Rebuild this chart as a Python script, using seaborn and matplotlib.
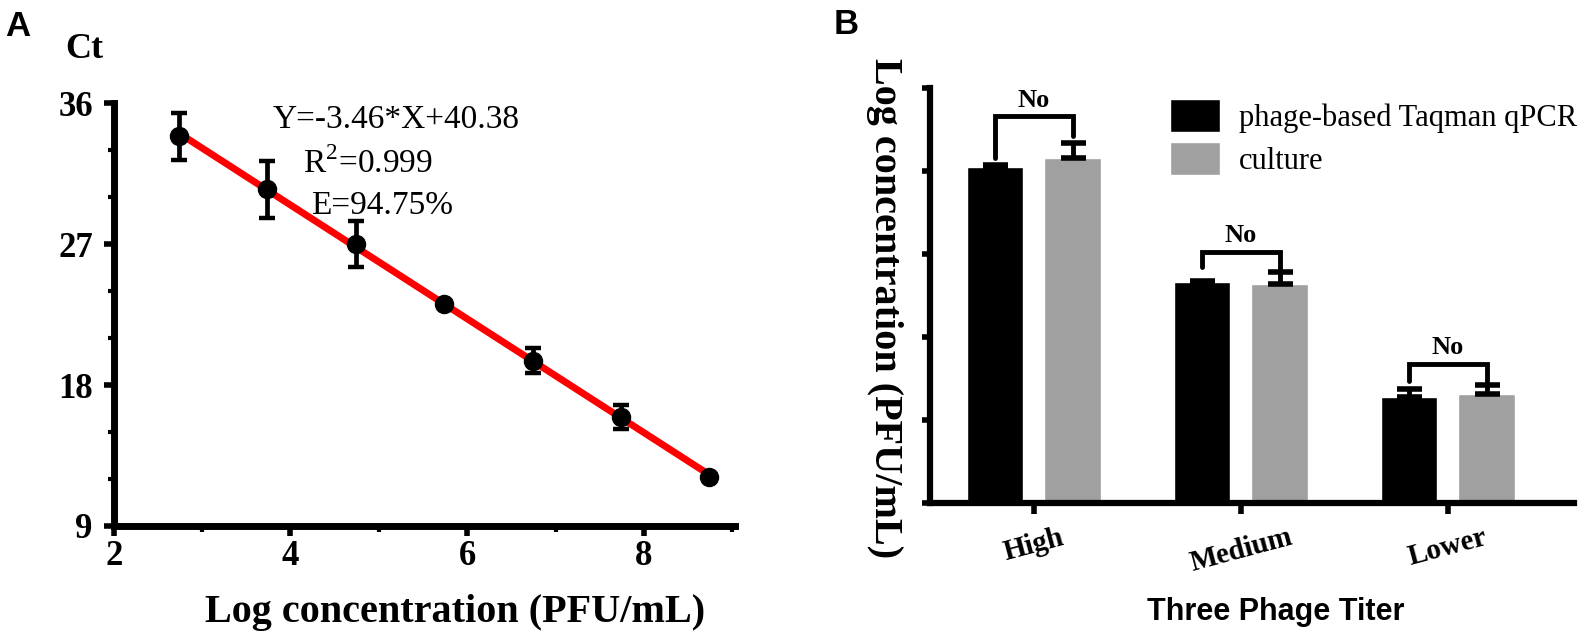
import numpy as np
import pandas as pd
import seaborn as sns
import matplotlib.pyplot as plt
from matplotlib.ticker import MultipleLocator

# Panel A: standard curve
log_conc = [2.74, 3.74, 4.74, 5.74, 6.74, 7.74, 8.74]
ct_mean = [33.9, 30.5, 27.0, 23.2, 19.55, 15.95, 12.15]
ct_sd = [1.5, 1.8, 1.45, 0.0, 0.8, 0.75, 0.0]

# Panel B: titer comparison
titers = ['High', 'Medium', 'Lower']
methods = ['phage-based Taqman qPCR', 'culture']
qpcr_mean = [8.11, 5.32, 2.55]
qpcr_sd = [0.04, 0.04, 0.19]
culture_mean = [8.31, 5.29, 2.63]
culture_sd = [0.36, 0.27, 0.22]
bracket_top = [9.32, 6.05, 3.35]
bracket_left = [8.31, 5.69, 2.93]
bracket_right = [8.84, 5.65, 2.95]

sns.set_style('ticks')
plt.rcParams['font.family'] = ['Liberation Serif', 'DejaVu Serif']
plt.rcParams['mathtext.fontset'] = 'custom'
plt.rcParams['mathtext.rm'] = 'Liberation Serif'
for k in ['text.color', 'axes.labelcolor', 'xtick.color', 'ytick.color', 'axes.edgecolor']:
    plt.rcParams[k] = 'black'

W, H = 1594, 638
fig = plt.figure(figsize=(W / 100, H / 100), dpi=100)

# ---------------- Panel A ----------------
axa = fig.add_axes([113.7 / W, (H - 526) / H, (735 - 113.7) / W, (526 - 103.3) / H])
sns.regplot(x=log_conc, y=ct_mean, scatter=False, ci=None, truncate=True,
            color='#ff0000', line_kws=dict(lw=5, solid_capstyle='butt'), ax=axa)
axa.errorbar(log_conc, ct_mean, yerr=ct_sd, fmt='o', color='black', ms=13,
             elinewidth=3.4, capsize=5.5, capthick=3.2, zorder=5)
axa.set_xlim(2, 9.03)
axa.set_ylim(9, 36)
axa.xaxis.set_major_locator(MultipleLocator(2))
axa.xaxis.set_minor_locator(MultipleLocator(1))
axa.yaxis.set_major_locator(MultipleLocator(9))
axa.yaxis.set_minor_locator(MultipleLocator(3))
sns.despine(ax=axa)
for s in ['left', 'bottom']:
    axa.spines[s].set_linewidth(5)
    axa.spines[s].set_capstyle('projecting')
axa.tick_params(which='major', length=7, width=4, labelsize=25)
axa.tick_params(which='minor', length=4, width=3)
axa.tick_params(axis='y', which='major', pad=8)
axa.tick_params(axis='x', which='major', pad=3)
for lab in axa.get_xticklabels() + axa.get_yticklabels():
    lab.set_fontweight('bold')
axa.set_xlabel('Log concentration (PFU/mL)', fontsize=29, fontweight='bold')
axa.xaxis.set_label_coords(0.55, -0.205)
axa.xaxis.label.set_va('center')
axa.set_ylabel('')

axa.text(0.256, 0.962, 'Y=-3.46*X+40.38', transform=axa.transAxes, fontsize=24,
         ha='left', va='center')
axa.text(0.304, 0.857, 'R$^{2}$=0.999', transform=axa.transAxes, fontsize=24,
         ha='left', va='center')
axa.text(0.317, 0.757, 'E=94.75%', transform=axa.transAxes, fontsize=24,
         ha='left', va='center')

fig.text(84 / W, 1 - 49 / H, 'Ct', fontsize=26, fontweight='bold', ha='center', va='center')
fig.text(18 / W, 1 - 27 / H, 'A', fontsize=25, fontweight='bold', ha='center', va='center',
         family='Liberation Sans')

# ---------------- Panel B ----------------
axb = fig.add_axes([930 / W, (H - 503) / H, (1574 - 930) / W, (503 - 88.3) / H])
df = pd.DataFrame({
    'titer': titers * 2,
    'method': [methods[0]] * 3 + [methods[1]] * 3,
    'value': qpcr_mean + culture_mean,
})
sns.barplot(data=df, x='titer', y='value', hue='method', order=titers, hue_order=methods,
            palette=['#000000', '#a0a0a0'], saturation=1, width=0.75, gap=0.27,
            errorbar=None, ax=axb)

centers = []
for cont, means, sds in zip(axb.containers, [qpcr_mean, culture_mean], [qpcr_sd, culture_sd]):
    xs = [p.get_x() + p.get_width() / 2 for p in cont]
    centers.append(xs)
    axb.errorbar(xs, means, yerr=[np.zeros(len(sds)), sds], fmt='none', ecolor='black',
                 elinewidth=3.5, capsize=9, capthick=4, zorder=4)

for i in range(len(titers)):
    xl, xr = centers[0][i], centers[1][i]
    axb.plot([xl, xl, xr, xr], [bracket_left[i], bracket_top[i], bracket_top[i], bracket_right[i]],
             color='black', lw=3.5, solid_joinstyle='miter')
    axb.text((xl + xr) / 2, bracket_top[i] + 0.12, 'No', ha='center', va='bottom',
             fontsize=19, fontweight='bold')

axb.set_xlim(-0.502, 2.609)
axb.set_ylim(0, 10)
axb.set_yticks(np.arange(0, 11, 2))
axb.set_yticklabels([])
sns.despine(ax=axb)
for s in ['left', 'bottom']:
    axb.spines[s].set_linewidth(4.5)
    axb.spines[s].set_capstyle('projecting')
axb.tick_params(axis='y', length=6, width=4)
axb.tick_params(axis='x', length=8, width=4, pad=7, labelsize=21)
for lab in axb.get_xticklabels():
    lab.set_rotation(15)
    lab.set_fontweight('bold')
axb.set_ylabel('Log concentration (PFU/mL)', fontsize=29, fontweight='bold', rotation=270)
axb.yaxis.set_label_coords(-0.0714, 0.47)
axb.yaxis.label.set_ha('center')
axb.yaxis.label.set_va('center')
axb.set_xlabel('Three Phage Titer', fontsize=22, fontweight='bold', family='Liberation Sans')
axb.xaxis.set_label_coords(0.537, -0.263)
axb.xaxis.label.set_va('center')

handles, labels = axb.get_legend_handles_labels()
axb.legend(handles, labels, loc='upper left', bbox_to_anchor=(1170 / W, 1 - 99 / H),
           bbox_transform=fig.transFigure, frameon=False, fontsize=22,
           handlelength=1.65, handleheight=1.3, handletextpad=0.6, labelspacing=0.3,
           borderaxespad=0, borderpad=0)

fig.text(846 / W, 1 - 24 / H, 'B', fontsize=25, fontweight='bold', ha='center', va='center',
         family='Liberation Sans')

fig.savefig('out.png', dpi=100)
